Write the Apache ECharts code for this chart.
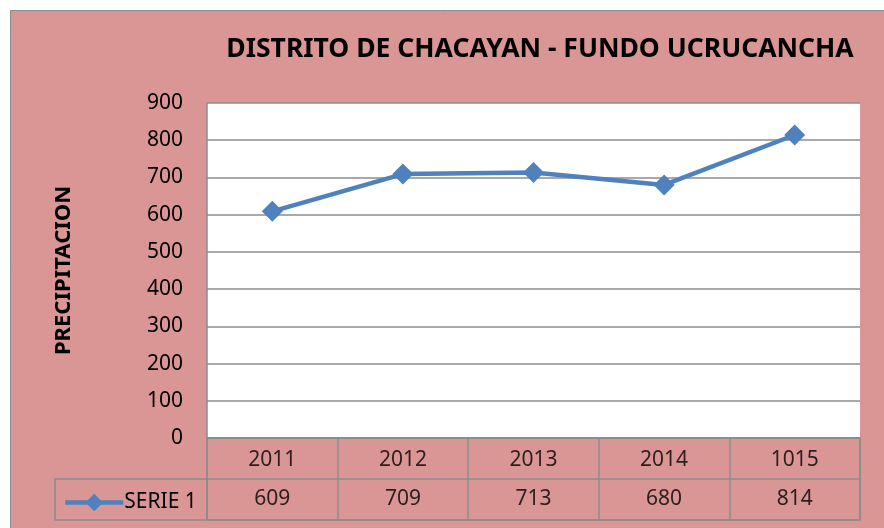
<!DOCTYPE html>
<html>
<head>
<meta charset="utf-8">
<script src="https://cdn.jsdelivr.net/npm/echarts@6/dist/echarts.min.js"></script>
<style>
  html, body { margin: 0; padding: 0; background: #fff; }
  #chart { width: 884px; height: 528px; }
</style>
</head>
<body>
<div id="chart"></div>
<script>
const years = ['2011', '2012', '2013', '2014', '1015']
const precip = [609, 709, 713, 680, 814]
const yTicks = [0, 100, 200, 300, 400, 500, 600, 700, 800, 900]

const pink = '#D99694'
const lineGray = '#8c8c8c'
const blue = '#4F81BD'
const font = 'Noto Sans'

const myChart = echarts.init(document.getElementById('chart'))

const option = {
  backgroundColor: '#fff',
  animation: false,
  textStyle: { fontFamily: font },
  title: {
    text: 'DISTRITO DE CHACAYAN - FUNDO UCRUCANCHA',
    left: 535,
    top: 31,
    textAlign: 'center',
    textStyle: { fontFamily: font, fontSize: 26.5, fontWeight: 'bold', color: '#000' }
  },
  graphic: [
    { // fondo rosado
      type: 'rect',
      z: -10,
      shape: { x: 10.5, y: 10.5, width: 880, height: 520 },
      style: { fill: pink, stroke: lineGray, lineWidth: 1 }
    },
    { // celda de leyenda
      type: 'rect',
      z: 5,
      shape: { x: 55, y: 479, width: 152, height: 41 },
      style: { fill: 'transparent', stroke: lineGray, lineWidth: 1.5 }
    }
  ],
  legend: {
    left: 58,
    top: 487,
    itemWidth: 58,
    itemHeight: 22,
    itemGap: 4,
    lineStyle: { width: 4.5 },
    textStyle: { fontFamily: font, fontSize: 21, color: '#000', padding: [0, 0, 0, -4] },
    data: ['SERIE 1']
  },
  grid: [
    { left: 207, top: 103, width: 653, height: 335, show: true, backgroundColor: '#fff', borderWidth: 0 },
    { left: 207, top: 438, width: 653, height: 82, show: true, backgroundColor: 'transparent', borderColor: lineGray, borderWidth: 1.5 }
  ],
  xAxis: [
    {
      gridIndex: 0,
      type: 'category',
      data: years,
      axisLine: { show: false },
      axisTick: { show: false },
      axisLabel: { show: false }
    },
    {
      gridIndex: 1,
      type: 'category',
      data: years,
      axisLine: { show: false },
      axisTick: { show: false },
      axisLabel: { show: false },
      splitLine: { show: true, lineStyle: { color: lineGray, width: 1.5 } }
    }
  ],
  yAxis: [
    {
      gridIndex: 0,
      type: 'value',
      min: yTicks[0],
      max: yTicks[yTicks.length - 1],
      interval: 100,
      name: 'PRECIPITACION',
      nameLocation: 'middle',
      nameGap: 132,
      nameTextStyle: { fontFamily: font, fontSize: 22, fontWeight: 'bold', color: '#000' },
      axisLine: { show: true, lineStyle: { color: lineGray, width: 1.5 } },
      axisTick: { show: false },
      axisLabel: { fontFamily: font, fontSize: 21, color: '#000', margin: 24 },
      splitLine: { show: true, lineStyle: { color: lineGray, width: 1.5 } }
    },
    {
      gridIndex: 1,
      type: 'value',
      min: 0,
      max: 2,
      interval: 1,
      axisLine: { show: false },
      axisTick: { show: false },
      axisLabel: { show: false },
      splitLine: { show: true, lineStyle: { color: lineGray, width: 1.5 } }
    }
  ],
  series: [
    {
      name: 'SERIE 1',
      type: 'line',
      xAxisIndex: 0,
      yAxisIndex: 0,
      data: precip,
      symbol: 'diamond',
      symbolSize: 21,
      lineStyle: { color: blue, width: 4.5 },
      itemStyle: { color: blue }
    },
    { // fila de años
      type: 'scatter',
      xAxisIndex: 1,
      yAxisIndex: 1,
      symbolSize: 0,
      silent: true,
      data: years.map((y, i) => [i, 1.5]),
      label: {
        show: true,
        position: 'inside',
        offset: [0, 2],
        formatter: p => years[p.dataIndex],
        fontFamily: font, fontSize: 21, color: '#000'
      }
    },
    { // fila de valores
      type: 'scatter',
      xAxisIndex: 1,
      yAxisIndex: 1,
      symbolSize: 0,
      silent: true,
      data: precip.map((v, i) => [i, 0.5]),
      label: {
        show: true,
        position: 'inside',
        formatter: p => precip[p.dataIndex],
        fontFamily: font, fontSize: 21, color: '#000'
      }
    }
  ]
}

myChart.setOption(option)
</script>
</body>
</html>
